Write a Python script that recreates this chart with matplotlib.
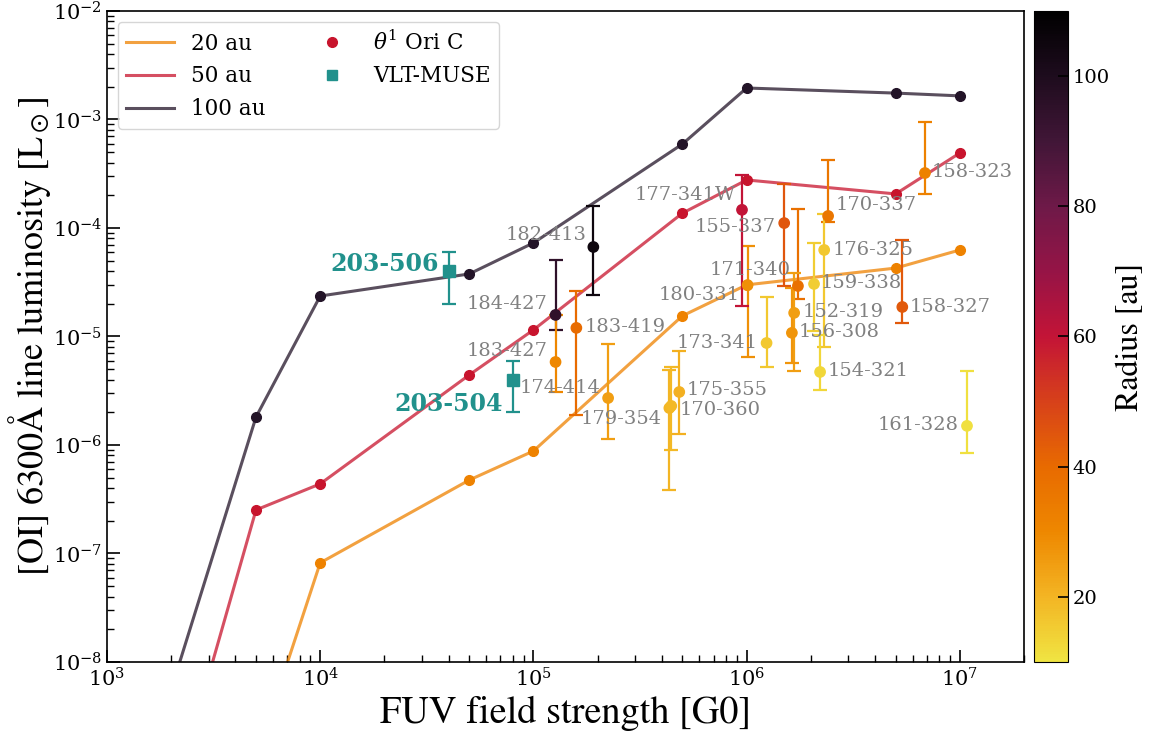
import numpy as np
import matplotlib.pyplot as plt
from matplotlib.colors import LinearSegmentedColormap, Normalize
from matplotlib.lines import Line2D

plt.rcParams['font.family'] = 'DejaVu Serif'
plt.rcParams['mathtext.fontset'] = 'dejavuserif'

# model grid: [OI] 6300 luminosity vs FUV field for three disc radii
g0_model = [1e3, 5e3, 1e4, 5e4, 1e5, 5e5, 1e6, 5e6, 1e7]
lum_20au = [1e-13, 1.3e-9, 8.2e-8, 4.75e-7, 8.8e-7, 1.55e-5, 2.99e-5, 4.27e-5, 6.27e-5]
lum_50au = [3.9e-12, 2.52e-7, 4.38e-7, 4.42e-6, 1.15e-5, 1.37e-4, 2.77e-4, 2.06e-4, 4.91e-4]
lum_100au = [7e-11, 1.81e-6, 2.36e-5, 3.77e-5, 7.28e-5, 5.94e-4, 1.95e-3, 1.75e-3, 1.65e-3]

# proplyds around theta1 Ori C
obs_names = ['182-413', '184-427', '183-427', '183-419', '174-414', '179-354',
             '170-360', '175-355', '173-341', '180-331', '177-341W', '155-337',
             '171-340', '170-337', '176-325', '159-338', '152-319', '156-308',
             '154-321', '158-327', '158-323', '161-328']
obs_g0 = [1.91e5, 1.27e5, 1.27e5, 1.59e5, 2.24e5, 4.34e5,
          4.43e5, 4.83e5, 1.24e6, 1.01e6, 9.51e5, 1.50e6,
          1.74e6, 2.41e6, 2.31e6, 2.07e6, 1.67e6, 1.63e6,
          2.21e6, 5.37e6, 6.86e6, 1.08e7]
obs_lum = [6.68e-5, 1.58e-5, 5.82e-6, 1.20e-5, 2.71e-6, 2.19e-6,
           2.29e-6, 3.08e-6, 8.71e-6, 2.98e-5, 1.47e-4, 1.11e-4,
           2.92e-5, 1.29e-4, 6.27e-5, 3.05e-5, 1.65e-5, 1.08e-5,
           4.71e-6, 1.87e-5, 3.21e-4, 1.50e-6]
obs_lo = [2.41e-5, 1.15e-5, 3.08e-6, 1.89e-6, 1.13e-6, 3.85e-7,
          9.0e-7, 1.26e-6, 5.24e-6, 6.47e-6, 1.91e-5, 2.92e-5,
          2.22e-5, 1.14e-4, 8.0e-6, 1.12e-5, 4.81e-6, 5.70e-6,
          3.21e-6, 1.33e-5, 2.06e-4, 8.43e-7]
obs_hi = [1.60e-4, 5.07e-5, 1.58e-5, 2.62e-5, 8.53e-6, 4.91e-6,
          5.24e-6, 7.34e-6, 2.31e-5, 6.82e-5, 3.08e-4, 2.55e-4,
          1.50e-4, 4.24e-4, 1.35e-4, 7.28e-5, 3.85e-5, 2.80e-5,
          1.03e-5, 7.74e-5, 9.48e-4, 4.81e-6]
obs_radius = [105, 95, 30, 40, 25, 20,
              19, 21, 16, 28, 60, 45,
              38, 36, 16, 15, 25, 27,
              13, 44, 32, 11]

# VLT-MUSE sources
muse_names = ['203-506', '203-504']
muse_g0 = [4e4, 8e4]
muse_lum = [4.0e-5, 4.0e-6]
muse_lo = [2.0e-5, 2.0e-6]
muse_hi = [6.0e-5, 6.0e-6]

# label offsets in pixels (dx, dy) and alignment
obs_offsets = [(-7, 12, 'right'), (-8, 11, 'right'), (-8, 11, 'right'), (8, 1, 'left'),
               (-8, 10, 'right'), (-8, -11, 'right'), (8, -4, 'left'), (7, 2, 'left'),
               (-9, 0, 'right'), (-8, -10, 'right'), (-6, 15, 'right'), (-8, -4, 'right'),
               (-7, 16, 'right'), (8, 11, 'left'), (8, 0, 'left'), (7, 1, 'left'),
               (8, 1, 'left'), (7, 1, 'left'), (8, 1, 'left'), (7, 0, 'left'),
               (7, 1, 'left'), (-8, 1, 'right')]
muse_offsets = [(-10, 7), (-10, -24)]

cmap = LinearSegmentedColormap.from_list('radius', [
    (0.0, '#f0e442'), (0.1, '#f3b423'), (0.2, '#ee8700'), (0.3, '#e86a00'),
    (0.4, '#d7411a'), (0.5, '#c31437'), (0.6, '#961446'), (0.7, '#6e1948'),
    (0.8, '#411637'), (0.9, '#1e0c1e'), (1.0, '#000000')])
norm = Normalize(vmin=10, vmax=110)

fig = plt.figure(figsize=(11.54, 7.31), dpi=100)
ax = fig.add_axes([0.0927, 0.0944, 0.7947, 0.8906])

models = [(lum_20au, '#ee8200', '20 au'),
          (lum_50au, '#c8142d', '50 au'),
          (lum_100au, '#231428', '100 au')]
for lum, col, lab in models:
    ax.plot(g0_model, lum, color=col, alpha=0.75, lw=2.2, label=lab, zorder=2)
    ax.plot(g0_model, lum, ls='', marker='o', ms=7, color=col, zorder=3)

for i in range(len(obs_names)):
    c = cmap(norm(obs_radius[i]))
    ax.errorbar(obs_g0[i], obs_lum[i],
                yerr=[[obs_lum[i] - obs_lo[i]], [obs_hi[i] - obs_lum[i]]],
                fmt='none', ecolor=c, elinewidth=1.6, capsize=5, capthick=1.6, zorder=4)
sc = ax.scatter(obs_g0, obs_lum, c=obs_radius, cmap=cmap, norm=norm, s=55, zorder=5)

for i, name in enumerate(obs_names):
    dx, dy, ha = obs_offsets[i]
    ax.annotate(name, (obs_g0[i], obs_lum[i]), xytext=(dx, dy), textcoords='offset pixels',
                ha=ha, va='center', fontsize=14, color='gray', zorder=6)

teal = '#21918c'
ax.errorbar(muse_g0, muse_lum,
            yerr=[np.subtract(muse_lum, muse_lo), np.subtract(muse_hi, muse_lum)],
            fmt='s', ms=8, color=teal, elinewidth=1.6, capsize=5, capthick=1.6, zorder=5)
for i, name in enumerate(muse_names):
    dx, dy = muse_offsets[i]
    ax.annotate(name, (muse_g0[i], muse_lum[i]), xytext=(dx, dy), textcoords='offset pixels',
                ha='right', va='center', fontsize=17, fontweight='bold', color=teal, zorder=6)

ax.set_xscale('log')
ax.set_yscale('log')
ax.set_xlim(1e3, 2e7)
ax.set_ylim(1e-8, 1e-2)
ax.tick_params(which='both', direction='in', top=False, right=False, labelsize=15)
ax.tick_params(which='major', length=9, width=1.2)
ax.tick_params(which='minor', length=5, width=1.0)
for sp in ax.spines.values():
    sp.set_linewidth(1.2)

ax.set_xlabel('FUV field strength [G0]', fontfamily='STIXGeneral', math_fontfamily='stix',
              fontsize=27.5)
ax.set_ylabel('[OI] 6300Å line luminosity [L$_\\odot$]', fontfamily='STIXGeneral',
              math_fontfamily='stix', fontsize=26, labelpad=0)

handles, labels = ax.get_legend_handles_labels()
handles += [Line2D([], [], ls='', marker='o', ms=7, color='#c8142d'),
            Line2D([], [], ls='', marker='s', ms=7, color=teal)]
labels += [r'$\theta^1$ Ori C', 'VLT-MUSE']
ax.legend(handles, labels, loc='upper left', ncol=2, fontsize=15.5, handlelength=2.2)

cax = fig.add_axes([0.896, 0.0944, 0.0295, 0.8906])
cb = fig.colorbar(sc, cax=cax, ticks=[20, 40, 60, 80, 100])
cb.ax.tick_params(direction='in', length=7, width=1.2, labelsize=14)
cb.set_label('Radius [au]', fontfamily='STIXGeneral', fontsize=23)

fig.savefig('out.png', dpi=100)
